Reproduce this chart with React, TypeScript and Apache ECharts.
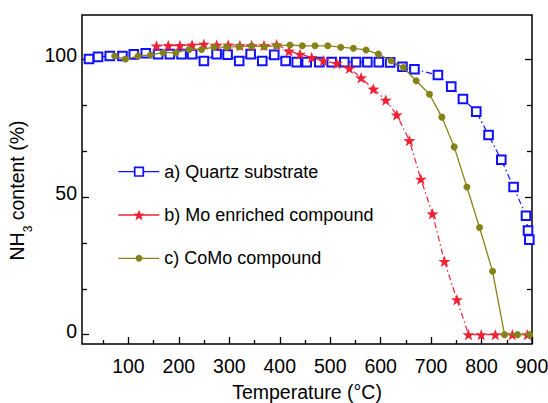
import React, { useEffect, useRef } from "react";
import * as echarts from "echarts";

// ---- data ----
const quartzT = [21.9, 39.8, 63, 88.2, 110.6, 134.4, 158.9, 182.1, 205.3, 226.3, 249.6, 274.8, 296.6, 319.6, 342.3, 365.3, 389.1, 411.7, 433.6, 453.4, 478.4, 503, 528, 551.3, 573.7, 596.3, 618.8, 643.2, 667, 713.5, 739.9, 763.1, 789.5, 813.9, 839.1, 863.5, 888.1, 892.1, 894.7];
const quartzV = [100.1, 100.9, 101.2, 101.2, 101.8, 102.2, 101.9, 101.9, 101.9, 101.9, 99.4, 101.9, 101.7, 99.4, 101.9, 99.4, 101.6, 99.4, 99, 99, 99, 99, 99, 99, 99, 99, 98.9, 97.3, 96.4, 94.3, 90.1, 85.6, 81, 72.5, 63.5, 53.6, 43.2, 37.8, 34.5];

const moT = [155.7, 179, 202, 226.3, 249.6, 274.8, 297.8, 321, 344.2, 368.7, 393.9, 418.3, 440.1, 463.3, 486.4, 513, 538, 561.2, 585.6, 610.2, 632, 657, 679.7, 702.7, 726.5, 751.2, 774.2, 799.4, 827.2, 861, 890.7];
const moV = [104.9, 105, 105, 105.2, 105.5, 105.2, 105.2, 105, 105, 105, 105.3, 103, 101.9, 100.7, 99.5, 98.5, 96.7, 93.3, 89.2, 85.2, 79.8, 70.5, 56.5, 43.9, 26.6, 12.7, 0, 0, 0, 0, 0];

const comoT = [72.9, 94.1, 119.2, 143.8, 168.8, 194, 220.4, 245, 269.4, 294.6, 319.6, 344.2, 369.3, 393.9, 420.3, 444.7, 469.9, 495.1, 520.9, 545.9, 571.1, 595.5, 620.7, 645.2, 670.4, 696.8, 721.4, 745.8, 771, 796, 821.8, 845.6, 871.4, 895.3];
const comoV = [101.2, 100.1, 101.2, 101.6, 102.4, 102.4, 103.6, 103.6, 104.4, 104.4, 104.6, 104.8, 104.6, 104.9, 105.2, 104.9, 104.9, 104.9, 104.4, 104, 103.4, 101.9, 99.5, 97, 92.2, 87.3, 79, 68.2, 53.6, 38.9, 23, 0, 0, 0];

const seriesNames = ["a) Quartz substrate", "b) Mo enriched compound", "c) CoMo compound"];
const xMajorTicks = [100, 200, 300, 400, 500, 600, 700, 800, 900];
const xMinorTicks = [50, 150, 250, 350, 450, 550, 650, 750, 850];
const yMajorTicks = [0, 50, 100];
const yMinorTicks = [16.667, 33.333, 66.667, 83.333];

const pairs = (xs: number[], ys: number[]) => xs.map((x, i) => [x, ys[i]]);

const STAR =
  "path://M0,-10L2.35,-3.24L9.51,-3.09L3.8,1.24L5.88,8.09L0,4L-5.88,8.09L-3.8,1.24L-9.51,-3.09L-2.35,-3.24Z";

const starPoints = (cx: number, cy: number, r: number) => {
  const pts: number[][] = [];
  for (let i = 0; i < 10; i++) {
    const rr = i % 2 === 0 ? r : r * 0.42;
    const a = -Math.PI / 2 + (i * Math.PI) / 5;
    pts.push([cx + rr * Math.cos(a), cy + rr * Math.sin(a)]);
  }
  return pts;
};

const FONT = "Liberation Sans, Arial, sans-serif";
const BLUE = "#1010ff";
const RED = "#ee2436";
const OLIVE = "#86821a";

export default function App() {
  const ref = useRef<HTMLDivElement>(null);
  useEffect(() => {
    if (!ref.current) return;
    const chart = echarts.init(ref.current, undefined, { renderer: "svg" });
    const XMIN = 8, XMAX = 900, YMIN = -3.4, YMAX = 116.1;
    const xBase = {
      type: "value" as const,
      min: XMIN,
      max: XMAX,
      position: "bottom" as const,
      axisLine: { show: false, onZero: false },
      splitLine: { show: false },
    };
    const yBase = {
      type: "value" as const,
      min: YMIN,
      max: YMAX,
      axisLine: { show: false, onZero: false },
      splitLine: { show: false },
    };
    const tickStyle = { color: "#000", width: 1.3 };

    const legendRows = [171.7, 215, 258.3];
    const lx0 = 118.3, lx1 = 159.3, mx = 139, tx = 164.3;
    const legendGraphics: any[] = [];
    const colors = [BLUE, RED, OLIVE];
    legendRows.forEach((y, i) => {
      legendGraphics.push({
        type: "line",
        shape: { x1: lx0, y1: y, x2: lx1, y2: y },
        style: { stroke: colors[i], lineWidth: 1.3 },
        z: 10,
      });
      if (i === 0) {
        legendGraphics.push({
          type: "rect",
          shape: { x: mx - 4.3, y: y - 4.3, width: 8.6, height: 8.6 },
          style: { fill: "#fff", stroke: BLUE, lineWidth: 1.7 },
          z: 11,
        });
      } else if (i === 1) {
        legendGraphics.push({
          type: "polygon",
          shape: { points: starPoints(mx, y + 0.5, 6) },
          style: { fill: RED },
          z: 11,
        });
      } else {
        legendGraphics.push({
          type: "circle",
          shape: { cx: mx, cy: y, r: 3.4 },
          style: { fill: OLIVE },
          z: 11,
        });
      }
      legendGraphics.push({
        type: "text",
        x: tx,
        y: y,
        style: {
          text: seriesNames[i],
          fontSize: 18,
          fontFamily: FONT,
          fill: "#000",
          verticalAlign: "middle",
          align: "left",
        },
        z: 11,
      });
    });

    chart.setOption({
      animation: false,
      backgroundColor: "#fff",
      textStyle: { fontFamily: FONT },
      grid: {
        left: 82,
        top: 15,
        right: 16,
        bottom: 59,
        containLabel: false,
        outerBoundsMode: "none",
        show: true,
        borderColor: "#000",
        borderWidth: 1.5,
        backgroundColor: "transparent",
      },
      xAxis: [
        {
          ...xBase,
          axisTick: { show: true, inside: true, length: 7, customValues: xMajorTicks, lineStyle: tickStyle },
          axisLabel: { show: true, customValues: xMajorTicks, fontSize: 19.5, color: "#000", margin: 12, fontFamily: FONT },
          name: "Temperature (°C)",
          nameLocation: "middle",
          nameGap: 38,
          nameTextStyle: { fontSize: 19.5, color: "#000", fontFamily: FONT },
        },
        {
          ...xBase,
          axisTick: { show: true, inside: true, length: 4, customValues: xMinorTicks, lineStyle: tickStyle },
          axisLabel: { show: false },
        },
      ],
      yAxis: [
        {
          ...yBase,
          position: "left",
          axisTick: { show: true, inside: true, length: 7, customValues: yMajorTicks, lineStyle: tickStyle },
          axisLabel: {
            show: true,
            customValues: yMajorTicks,
            fontSize: 19.5,
            color: "#000",
            margin: 5,
            fontFamily: FONT,
            verticalAlign: "bottom",
            lineHeight: 20,
            padding: [0, 0, -6, 0],
          },
          name: "{m|NH}{s|3}{m| content (%)}",
          nameLocation: "middle",
          nameGap: 41,
          nameTextStyle: {
            fontFamily: FONT,
            fontSize: 19.5,
            color: "#000",
            padding: [0, 22, 0, 0],
            rich: {
              m: { fontSize: 19.5, color: "#000", fontFamily: FONT, lineHeight: 24 },
              s: { fontSize: 12, color: "#000", fontFamily: FONT, verticalAlign: "bottom", lineHeight: 24, padding: [0, 0, -5, 0] },
            },
          },
        },
        {
          ...yBase,
          position: "left",
          axisTick: { show: true, inside: true, length: 5, customValues: yMinorTicks, lineStyle: tickStyle },
          axisLabel: { show: false },
        },
        {
          ...yBase,
          position: "right",
          axisTick: { show: true, inside: true, length: 7, customValues: yMajorTicks, lineStyle: tickStyle },
          axisLabel: { show: false },
        },
        {
          ...yBase,
          position: "right",
          axisTick: { show: true, inside: true, length: 5, customValues: yMinorTicks, lineStyle: tickStyle },
          axisLabel: { show: false },
        },
      ],
      graphic: legendGraphics,
      series: [
        {
          name: seriesNames[0],
          type: "line",
          data: pairs(quartzT, quartzV),
          symbol: "emptyRect",
          symbolSize: 8.6,
          color: BLUE,
          itemStyle: { color: BLUE, borderWidth: 1.7 },
          lineStyle: { color: BLUE, width: 1.2, type: [6, 3, 1.5, 3] },
          z: 2,
        },
        {
          name: seriesNames[1],
          type: "line",
          data: pairs(moT, moV),
          symbol: STAR,
          symbolSize: 12,
          symbolKeepAspect: true,
          color: RED,
          itemStyle: { color: RED },
          lineStyle: { color: RED, width: 1.2, type: [6, 3, 1.5, 3] },
          z: 3,
        },
        {
          name: seriesNames[2],
          type: "line",
          data: pairs(comoT, comoV),
          symbol: "circle",
          symbolSize: 7,
          color: OLIVE,
          itemStyle: { color: OLIVE },
          lineStyle: { color: OLIVE, width: 1.3 },
          z: 4,
        },
      ],
    });
    return () => chart.dispose();
  }, []);
  return <div ref={ref} style={{ width: 548, height: 403, position: "absolute", left: 0, top: 0 }} />;
}
